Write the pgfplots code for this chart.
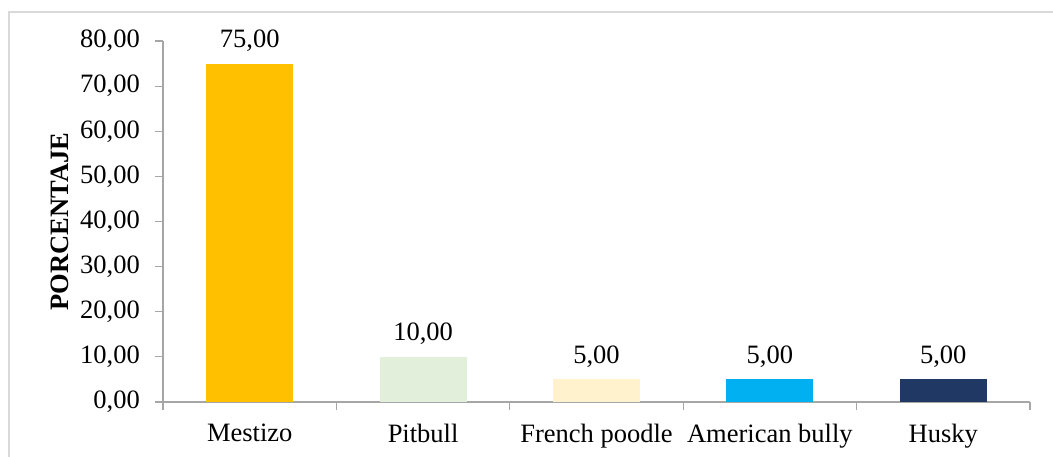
\documentclass[border=0pt]{standalone}
\usepackage{fontspec}
\setmainfont{Liberation Serif}
\usepackage{pgfplots}
\pgfplotsset{compat=1.18}

\definecolor{cMestizo}{RGB}{255,192,0}
\definecolor{cPitbull}{RGB}{226,239,218}
\definecolor{cPoodle}{RGB}{255,242,204}
\definecolor{cBully}{RGB}{0,176,240}
\definecolor{cHusky}{RGB}{31,56,100}
\definecolor{axisgray}{RGB}{166,166,166}
\definecolor{framegray}{RGB}{217,217,217}

\newcommand{\chartfont}{\fontsize{26.5}{31}\selectfont}

\begin{document}
\begin{tikzpicture}[x=1pt,y=1pt]
\useasboundingbox (0,0) rectangle (1053,-457);
% chart frame
\draw[framegray, line width=1.5pt] (9,-460) -- (9,-12) -- (1056,-12);
\begin{axis}[
  at={(163pt,-402pt)}, anchor=south west,
  scale only axis, width=867pt, height=361pt,
  xmin=-0.5, xmax=4.5, ymin=0, ymax=80,
  axis lines=left,
  axis line style={draw=axisgray, line width=1.2pt, -},
  tick style={draw=axisgray, line width=1.2pt},
  tick align=outside,
  major tick length=8pt,
  minor tick length=8pt,
  ytick={0,10,...,80},
  scaled y ticks=false,
  y tick label style={/pgf/number format/fixed,
    /pgf/number format/fixed zerofill,
    /pgf/number format/precision=2,
    /pgf/number format/use comma,
    /pgf/number format/assume math mode=true,
    font=\chartfont, inner sep=0pt, xshift=-15pt},
  xtick={0,1,2,3,4},
  xticklabels={Mestizo, Pitbull, French poodle, American bully, Husky},
  major x tick style={draw=none},
  minor xtick={-0.5,0.5,1.5,2.5,3.5,4.5},
  x tick label style={font=\chartfont, inner sep=0pt, yshift=-14pt},
  ylabel={\textbf{PORCENTAJE}},
  ylabel style={font=\chartfont, at={(axis description cs:-0.1188,0.5)}, anchor=center},
  ybar, bar width=87pt, bar shift=0pt,
  nodes near coords={\pgfmathprintnumber[fixed,fixed zerofill,precision=2,use comma,assume math mode=true]{\pgfplotspointmeta}},
  every node near coord/.append style={font=\chartfont, inner sep=0pt, yshift=12pt, text=black},
  clip=false,
]
\addplot[fill=cMestizo, draw=none] coordinates {(0,75)};
\addplot[fill=cPitbull, draw=none] coordinates {(1,10)};
\addplot[fill=cPoodle, draw=none] coordinates {(2,5)};
\addplot[fill=cBully, draw=none] coordinates {(3,5)};
\addplot[fill=cHusky, draw=none] coordinates {(4,5)};
\end{axis}
\end{tikzpicture}
\end{document}
